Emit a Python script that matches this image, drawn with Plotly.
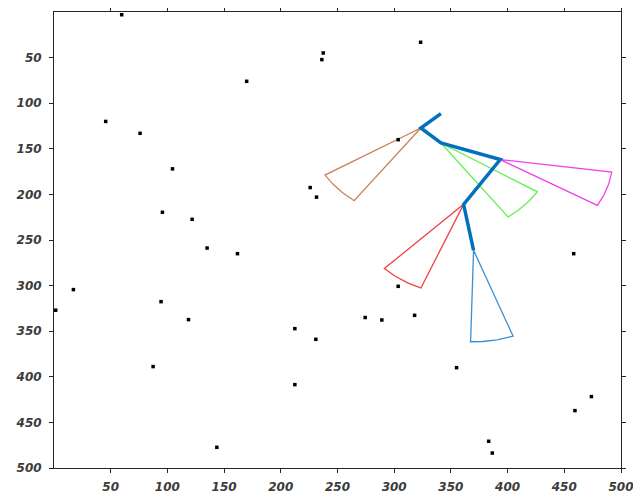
import numpy as np
import plotly.graph_objects as go

# obstacle points (data coords)
pts_x = [59.7, 169.9, 45.6, 75.9, 104.5, 95.6, 121.8, 225.9, 231.5, 237.4, 236.2,
         323.3, 303.5, 135.0, 161.8, 17.1, 1.5, 94.4, 118.6, 212.4, 230.9, 87.4,
         212.4, 143.6, 458.3, 303.5, 274.4, 289.1, 318.0, 355.0, 473.9, 459.4,
         383.3, 386.5]
pts_y = [3.0, 76.0, 120.0, 133.0, 172.0, 219.6, 227.3, 192.5, 203.0, 44.9, 52.2,
         33.2, 140.0, 258.8, 265.0, 304.4, 327.0, 317.6, 337.3, 347.2, 358.9, 388.8,
         408.6, 477.3, 265.0, 300.8, 335.0, 337.7, 332.6, 390.0, 421.7, 437.1,
         470.7, 483.6]

# arm polyline
arm_x = [341.2, 323.5, 341.2, 393.5, 361.2, 370.0]
arm_y = [111.4, 127.2, 143.6, 161.8, 210.9, 261.3]

# sensing sectors: apex, radius, start/end angle (deg), colour
sec_cx = [323.5, 341.2, 393.5, 361.2, 370.0]
sec_cy = [127.2, 143.6, 161.8, 210.9, 261.3]
sec_r = [99.0, 100.5, 99.3, 99.2, 100.3]
sec_a0 = [126.5, 32.2, 7.9, 112.3, 69.7]
sec_a1 = [148.6, 53.9, 30.4, 134.8, 91.5]
sec_col = ['#c9825a', '#66ee55', '#f040f0', '#f04040', '#3a8fd4']

fig = go.Figure()
for cx, cy, r, a0, a1, c in zip(sec_cx, sec_cy, sec_r, sec_a0, sec_a1, sec_col):
    t = np.radians(np.linspace(a0, a1, 40))
    xs = [cx] + list(cx + r * np.cos(t)) + [cx]
    ys = [cy] + list(cy + r * np.sin(t)) + [cy]
    fig.add_trace(go.Scatter(x=xs, y=ys, mode='lines',
                             line=dict(color=c, width=1.3), hoverinfo='skip'))

fig.add_trace(go.Scatter(x=arm_x, y=arm_y, mode='lines',
                         line=dict(color='#0072BD', width=3.5)))
fig.add_trace(go.Scatter(x=pts_x, y=pts_y, mode='markers',
                         marker=dict(symbol='square', size=3.5, color='black',
                                     line=dict(width=0))))

tickfont = dict(family='DejaVu Sans', size=12, color='#3c3c3c',
                weight='bold', style='italic')
axis_common = dict(showgrid=False, zeroline=False, showline=True, linecolor='#262626',
                   linewidth=1, mirror='ticks', ticks='outside', ticklen=4,
                   tickcolor='#262626', tickfont=tickfont, automargin=False,
                   tickvals=list(range(50, 501, 50)))
fig.update_xaxes(range=[0, 500], ticklabelstandoff=4, **axis_common)
fig.update_yaxes(range=[500, 0], ticklabelstandoff=5, **axis_common)
fig.update_layout(width=633, height=487, showlegend=False,
                  margin=dict(l=46, r=20, t=4, b=27),
                  plot_bgcolor='white', paper_bgcolor='white')
fig.write_html('out.html')
